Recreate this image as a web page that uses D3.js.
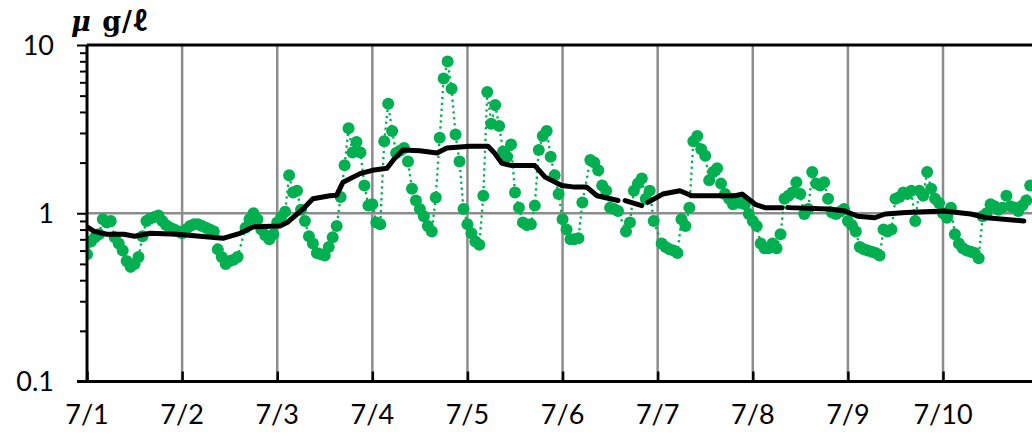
<!DOCTYPE html>
<html>
<head>
<meta charset="utf-8">
<script src="https://cdn.jsdelivr.net/npm/d3@7"></script>
<style>
body { margin: 0; background: #fff; }
svg { display: block; font-family: Lato, "Open Sans", sans-serif; }
</style>
</head>
<body>
<svg id="chart" width="1032" height="437"></svg>
<script>
// hourly concentration, one row per day starting 7/1 0:00 (null = no data)
var day1 = [0.57, 0.68, 0.72, 0.75, 0.92, 0.88, 0.90, 0.72, 0.66, 0.60, 0.52, 0.48, 0.50, 0.55, 0.73, 0.90, 0.93, 0.95, 0.97, 0.90, 0.85, 0.82, 0.80, 0.78];
var day2 = [0.76, 0.80, 0.84, 0.86, 0.86, 0.84, 0.82, 0.80, 0.78, 0.61, 0.55, 0.50, 0.52, 0.53, 0.55, null, 0.82, 0.92, 1.00, 0.92, 0.80, 0.74, 0.70, 0.75];
var day3 = [0.88, 0.95, 1.02, 1.68, 1.33, 1.36, 1.05, 0.90, 0.73, 0.66, 0.58, 0.57, 0.56, 0.63, 0.72, 0.84, 1.25, 1.93, 3.20, 2.30, 2.65, 2.30, 1.46, 1.11];
var day4 = [1.13, 0.88, 0.86, 2.68, 4.47, 3.08, 2.28, 2.35, 2.44, 2.03, 1.40, 1.19, 1.06, 0.96, 0.84, 0.78, 1.24, 2.81, 6.33, 7.99, 5.50, 2.94, 2.03, 1.06];
var day5 = [0.86, 0.76, 0.68, 0.65, 1.27, 5.26, 3.40, 4.40, 3.30, 2.33, 2.17, 2.56, 1.33, 1.08, 0.88, 0.85, 0.86, 1.11, 2.38, 2.88, 3.08, 2.17, 1.68, 1.30];
var day6 = [0.92, 0.80, 0.70, 0.70, 0.71, 1.16, null, 2.07, 2.00, 1.80, 1.46, 1.36, 1.08, 1.06, 1.03, null, 0.78, 0.88, 1.36, 1.50, 1.61, 1.22, 1.36, 0.90];
var day7 = [null, 0.66, 0.63, 0.61, 0.60, 0.58, 0.92, 0.84, 1.08, 2.68, 2.88, 2.40, 2.20, 1.57, 1.76, 1.85, 1.50, 1.30, 1.22, 1.13, 1.16, 1.15, 1.13, 0.99];
var day8 = [0.90, 0.84, 0.66, 0.62, 0.62, 0.66, 0.62, 0.75, 1.22, 1.27, 1.33, 1.53, 1.30, 0.99, 1.06, 1.76, 1.50, 1.46, 1.53, 1.22, 1.01, 0.99, 1.02, 1.06];
var day9 = [0.90, 0.85, 0.78, 0.63, 0.61, 0.60, 0.59, 0.58, 0.56, 0.80, 0.78, 0.80, 1.22, 1.25, 1.33, 1.30, 1.36, 0.90, 1.36, 1.27, 1.76, 1.40, 1.22, 1.15];
var day10 = [1.00, 0.94, 1.08, 0.75, 0.66, 0.62, 0.60, 0.59, 0.58, 0.54, 0.96, 1.00, 1.13, 1.10, 1.05, 1.08, 1.27, 1.10, 1.08, 1.03, 1.11, 1.19, 1.46];

// moving average (black line), hour since 7/1 0:00 and value; null breaks the line
var avgHours = [0, 1.8, 5, 9.3, 12, 16, 22.7, 28.5, 34.3, 38.6, 42, 48.7, 50.5, 54.5, 57, 61.3, 63, 64.6, 68.9, 72,
    75.7, 77.5, 79.7, 84, 88.3, 90.8, 96.6, 101.2, 102.7, 104.7, 107.2, 113, 115.6, 119.8, 123.1, 126.1, 128.7, 134, 134.9, 135.8,
    140, 140.8, 141.5, 145.3, 149.6, 152.6, 163.5, 165.3, 168.6, 171.1, 175.4, 176.1, 176.8, 187, 191.3, 194.5, 198.8, 201.4, 206.7, 216.2,
    223, 227, 236.4];
var avgValues = [0.83, 0.78, 0.75, 0.75, 0.73, 0.76, 0.75, 0.73, 0.71, 0.76, 0.83, 0.84, 0.88, 1.06, 1.22, 1.27, 1.28, 1.53, 1.72, 1.80,
    1.85, 2.10, 2.38, 2.35, 2.28, 2.44, 2.50, 2.50, 2.30, 1.98, 1.92, 1.92, 1.64, 1.46, 1.43, 1.43, 1.27, 1.19, null, 1.19,
    1.11, null, 1.16, 1.30, 1.36, 1.27, 1.27, 1.30, 1.13, 1.08, 1.08, null, 1.08, 1.06, 1.03, 0.96, 0.94, 0.99, 1.01, 1.03,
    0.99, 0.94, 0.90];

var dayLabels = ['7/1', '7/2', '7/3', '7/4', '7/5', '7/6', '7/7', '7/8', '7/9', '7/10'];
var yLabels = [0.1, 1, 10];
var unitParts = ['μ', ' g/', 'ℓ'];

(function () {
    var conc = [].concat(day1, day2, day3, day4, day5, day6, day7, day8, day9, day10);
    var points = conc.map(function (v, i) { return { h: i, v: v }; }).filter(function (d) { return d.v !== null; });
    var avg = d3.zip(avgHours, avgValues).map(function (d) { return { h: d[0], v: d[1] }; });

    var W = 1032, plotLeft = 87, plotTop = 45, plotBottom = 381.5;
    var svg = d3.select('#chart');

    var x = d3.scaleLinear().domain([0, 240]).range([plotLeft, plotLeft + 240 * 3.963]);
    var y = d3.scaleLog().domain([0.1, 10]).range([plotBottom, plotTop]);

    svg.append('clipPath').attr('id', 'plot')
        .append('rect').attr('x', plotLeft).attr('y', plotTop - 10)
        .attr('width', W - plotLeft).attr('height', plotBottom - plotTop + 20);

    // grid
    var dayHours = dayLabels.map(function (d, i) { return i * 24; });
    svg.append('g').selectAll('line').data(dayHours.slice(1)).enter().append('line')
        .attr('x1', function (d) { return x(d); }).attr('x2', function (d) { return x(d); })
        .attr('y1', plotTop).attr('y2', plotBottom)
        .attr('stroke', '#8c8c8c').attr('stroke-width', 2.5);
    svg.append('line')
        .attr('x1', plotLeft).attr('x2', W).attr('y1', y(1)).attr('y2', y(1))
        .attr('stroke', '#8c8c8c').attr('stroke-width', 2.5);

    // green hourly series
    var plot = svg.append('g').attr('clip-path', 'url(#plot)');
    var line = d3.line().x(function (d) { return x(d.h); }).y(function (d) { return y(d.v); });

    plot.append('path').datum(points)
        .attr('d', line)
        .attr('fill', 'none')
        .attr('stroke', '#00b050')
        .attr('stroke-width', 2.3)
        .attr('stroke-dasharray', '2.3 3.6');

    plot.selectAll('circle').data(points).enter().append('circle')
        .attr('cx', function (d) { return x(d.h); })
        .attr('cy', function (d) { return y(d.v); })
        .attr('r', 6)
        .attr('fill', '#00b050');

    // black average line
    plot.append('path').datum(avg)
        .attr('d', line.defined(function (d) { return d.v !== null; }))
        .attr('fill', 'none')
        .attr('stroke', '#000')
        .attr('stroke-width', 5)
        .attr('stroke-linejoin', 'round')
        .attr('stroke-linecap', 'round');

    // top frame line
    svg.append('line').attr('x1', plotLeft).attr('x2', W).attr('y1', plotTop).attr('y2', plotTop)
        .attr('stroke', '#000').attr('stroke-width', 3);

    // y axis
    var yAxis = svg.append('g').attr('transform', 'translate(' + plotLeft + ',0)')
        .call(d3.axisLeft(y).tickValues(y.ticks()).tickSize(7).tickFormat(''));
    yAxis.selectAll('.tick line')
        .attr('stroke-width', 2)
        .attr('x2', function (d) { return yLabels.indexOf(d) >= 0 ? -10 : -7; });
    yAxis.select('.domain').attr('stroke-width', 3).attr('d', 'M0,' + plotTop + 'V' + plotBottom);

    svg.append('g').selectAll('text').data(yLabels).enter().append('text')
        .attr('x', 54)
        .attr('y', function (d) { return y(d); })
        .attr('dy', '0.36em')
        .attr('text-anchor', 'end')
        .attr('font-size', 27)
        .attr('fill', '#000')
        .text(function (d) { return d; });

    // x axis
    var xAxis = svg.append('g').attr('transform', 'translate(0,' + plotBottom + ')')
        .call(d3.axisBottom(x).tickValues(dayHours).tickSizeInner(-10).tickSizeOuter(0).tickFormat(''));
    xAxis.select('.domain').attr('stroke-width', 3).attr('d', 'M' + (plotLeft - 10) + ',0H' + W);
    xAxis.selectAll('.tick line').attr('stroke-width', 2.5);

    svg.append('g').selectAll('text').data(dayLabels).enter().append('text')
        .attr('x', function (d, i) { return x(dayHours[i]); })
        .attr('y', 424)
        .attr('text-anchor', 'middle')
        .attr('font-size', 27)
        .attr('fill', '#000')
        .text(function (d) { return d; });

    // unit
    var unit = svg.append('text')
        .attr('x', 71).attr('y', 31)
        .attr('font-family', '"DejaVu Serif", serif')
        .attr('font-weight', 'bold')
        .attr('font-size', 27)
        .attr('letter-spacing', 1);
    unit.append('tspan').attr('font-style', 'italic').text(unitParts[0]);
    unit.append('tspan').text(unitParts[1]);
    unit.append('tspan').attr('font-family', '"Noto Sans CJK JP", sans-serif').text(unitParts[2]);
})();
</script>
</body>
</html>
